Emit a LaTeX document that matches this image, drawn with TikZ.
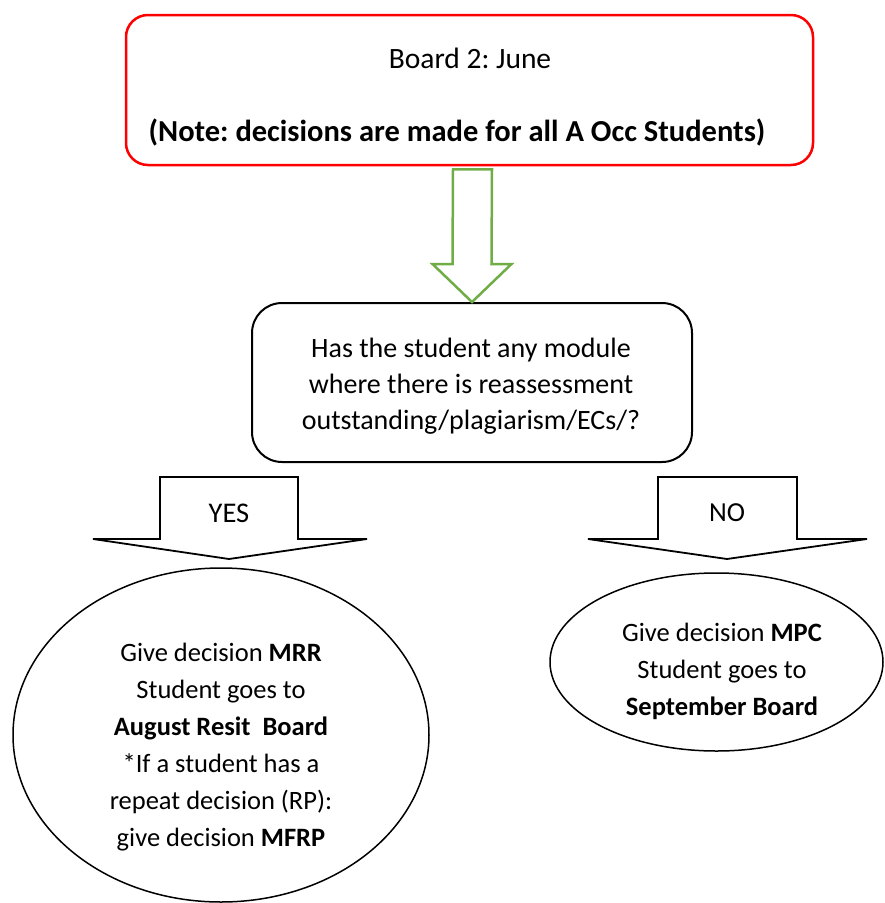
\documentclass[tikz,border=0pt]{standalone}
\usepackage{fontspec}
\setmainfont{Carlito}
\usetikzlibrary{shapes.geometric,calc}
\definecolor{boxred}{RGB}{255,0,0}
\definecolor{arrgreen}{RGB}{112,173,71}
\frenchspacing
\tikzset{
  txt/.style={inner sep=0pt,align=center,font=\fontsize{26.5}{37}\selectfont},
  redbox/.style={draw=boxred,line width=2.5pt,rounded corners=22pt,minimum width=687pt,minimum height=150pt,inner sep=0pt},
  blackbox/.style={draw=black,line width=2pt,rounded corners=30pt,minimum width=440pt,minimum height=159pt,inner sep=0pt},
  oval/.style={draw=black,line width=1.5pt,ellipse,inner sep=0pt},
  garrow/.style={draw=arrgreen,line width=2.5pt,line join=miter,fill=white},
  barrow/.style={draw=black,line width=1.8pt,line join=miter,fill=white}
}
\begin{document}
\begin{tikzpicture}[x=1pt,y=-1pt]
\useasboundingbox[fill=white] (0,0) rectangle (885,903);

% top box
\node[redbox] (top) at (469.5,90) {};
\node[txt,font=\fontsize{29.5}{37}\selectfont] (t1) at (470,58) {Board 2: June};
\node[txt,font=\fontsize{30.5}{37}\selectfont] (t2) at (457,132) {\textbf{(Note: decisions are made for all A Occ Students)}};

% middle box
\node[blackbox] (mid) at (472,382.5) {};
\node[txt,font=\fontsize{28}{36}\selectfont] (q) at (471,386) {Has the student any module\\where there is reassessment\\outstanding/plagiarism/ECs/?};

% green block arrow from top to mid
\draw[garrow] ($(top.south)+(-16.5,3)$) coordinate (g1)
  -- ($(mid.north)+(-19.5,-38)$)
  -- ($(mid.north)+(-39.5,-38)$)
  -- (mid.north)
  -- ($(mid.north)+(39.5,-38)$)
  -- ($(mid.north)+(19.5,-38)$)
  -- ($(top.south)+(22.5,3)$) -- cycle;

% YES block arrow
\coordinate (ytip) at (229,559);
\draw[barrow] (160,477) -- (298,477) -- (298,539) -- (367,539) -- (ytip) -- (93,539) -- (160,539) -- cycle;
\node[txt,font=\fontsize{28.5}{37}\selectfont] (yes) at (229,513) {YES};

% NO block arrow
\coordinate (ntip) at (727,559);
\draw[barrow] (658,477) -- (797,477) -- (797,539) -- (867,539) -- (ntip) -- (588,539) -- (658,539) -- cycle;
\node[txt,font=\fontsize{27.5}{37}\selectfont] (no) at (727,513) {NO};

% left ellipse
\node[oval,minimum width=416pt,minimum height=334pt] (left) at (221,735) {};
\node[txt] (lt) at (221,747) {Give decision \textbf{MRR}\\Student goes to\\\textbf{August Resit\ \ Board}\\*If a student has a\\repeat decision (RP):\\give decision \textbf{MFRP}};

% right ellipse
\node[oval,minimum width=333pt,minimum height=178pt] (right) at (716.5,662) {};
\node[txt] (rt) at (722,671.5) {Give decision \textbf{MPC}\\Student goes to\\\textbf{September Board}};
\end{tikzpicture}
\end{document}
